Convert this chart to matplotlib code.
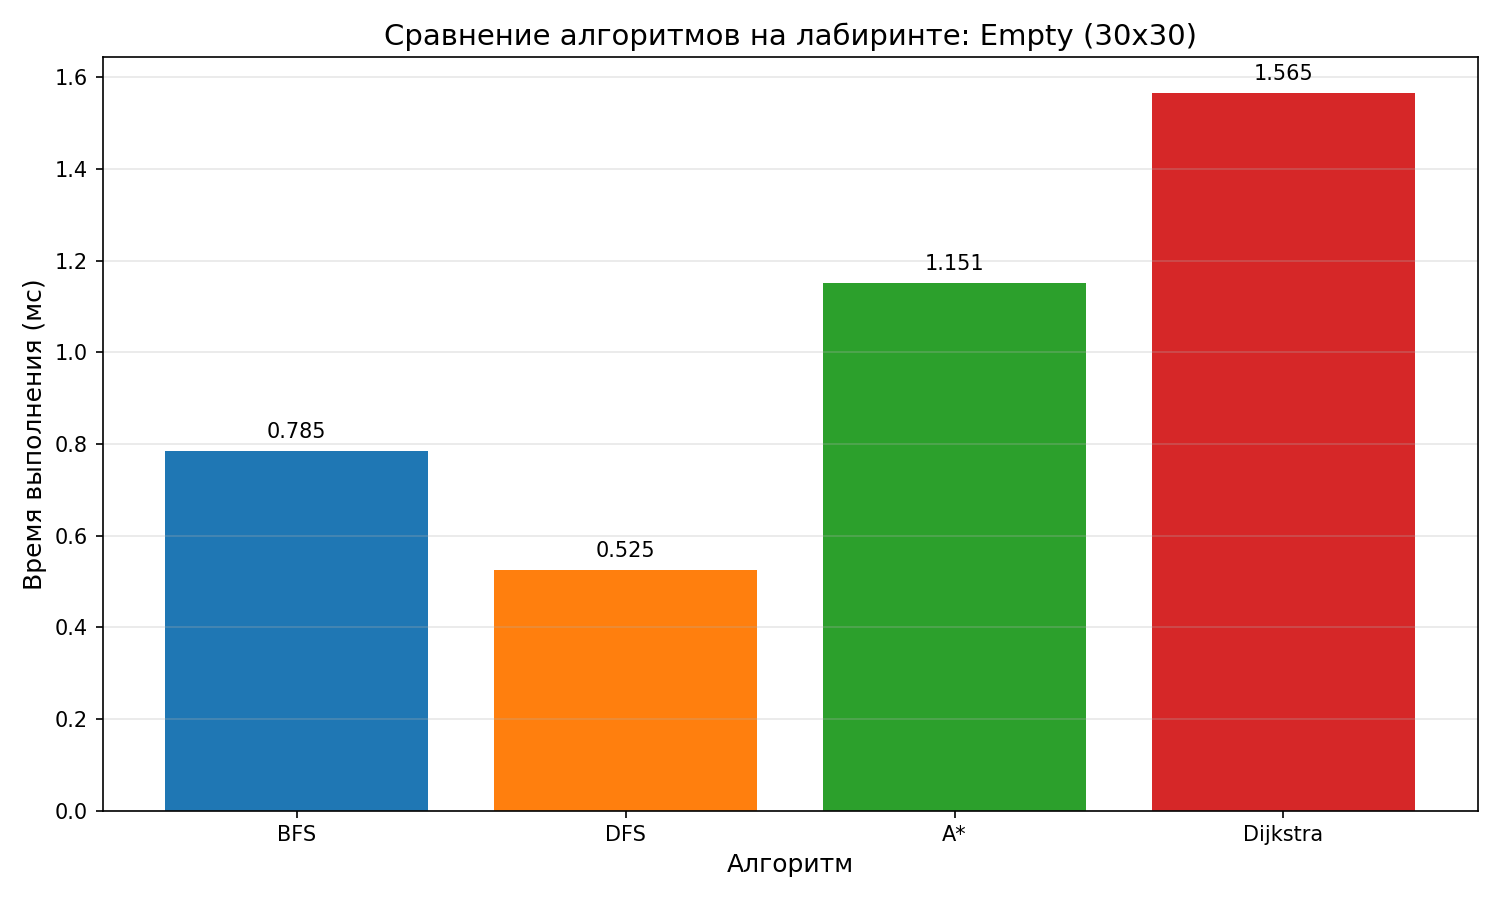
import matplotlib
matplotlib.use("Agg")
import matplotlib.pyplot as plt

algorithms = ["BFS", "DFS", "A*", "Dijkstra"]
times_ms = [0.785, 0.525, 1.151, 1.565]
colors = ["#1f77b4", "#ff7f0e", "#2ca02c", "#d62728"]
maze_name = "Empty (30x30)"

fig, ax = plt.subplots(figsize=(10, 6), dpi=150)
bars = ax.bar(algorithms, times_ms, color=colors)

for bar, val in zip(bars, times_ms):
    ax.text(bar.get_x() + bar.get_width() / 2, bar.get_height() + 0.02,
            f"{val:.3f}", ha="center", va="bottom", fontsize=10)

ax.set_title(f"Сравнение алгоритмов на лабиринте: {maze_name}", fontsize=14)
ax.set_xlabel("Алгоритм", fontsize=12)
ax.set_ylabel("Время выполнения (мс)", fontsize=12)
ax.grid(axis="y", alpha=0.3)

plt.tight_layout()
plt.savefig("out.png")
